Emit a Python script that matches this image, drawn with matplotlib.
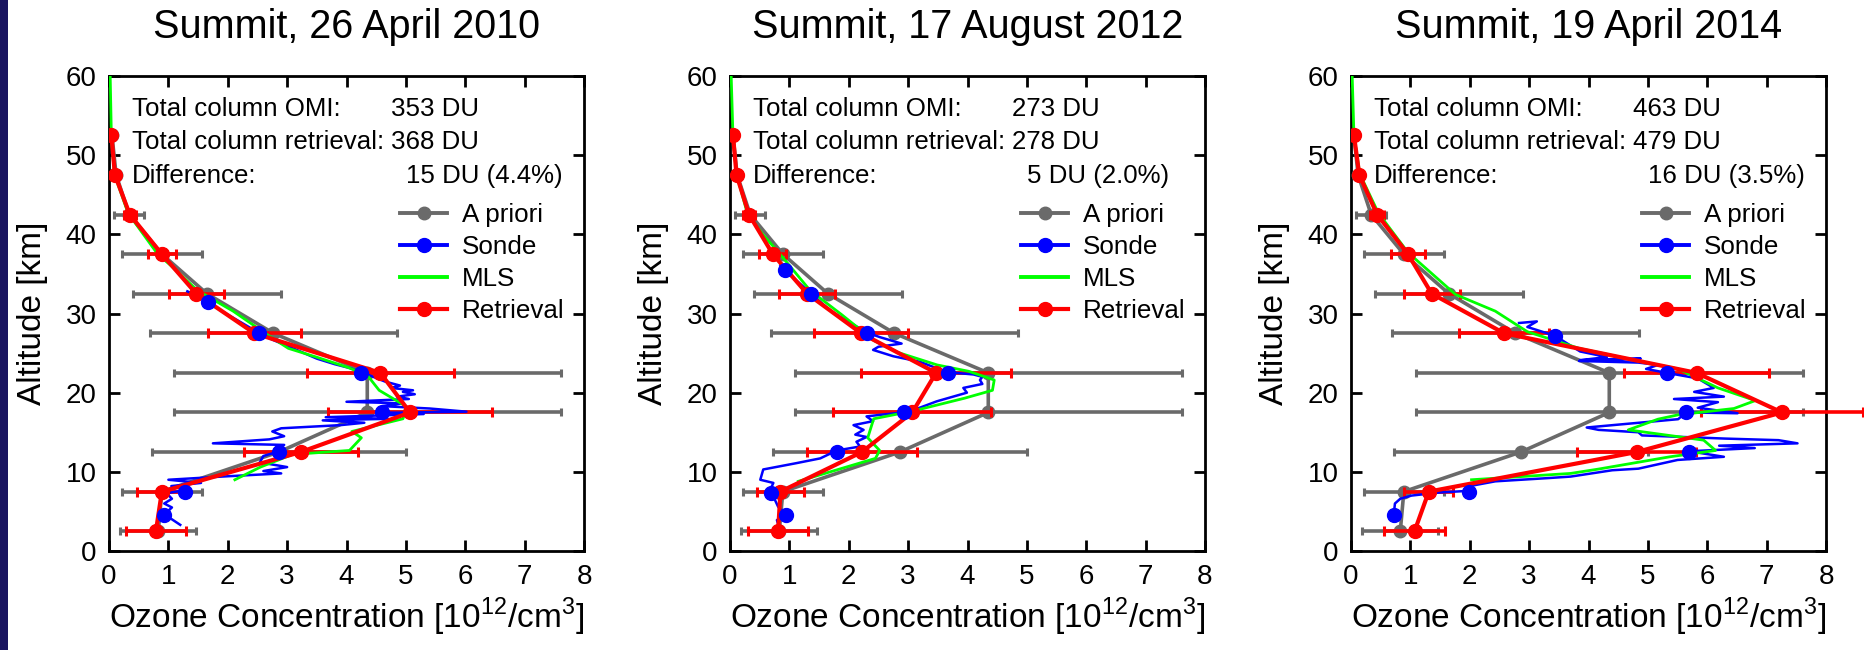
import matplotlib
matplotlib.use("Agg")
import matplotlib.pyplot as plt
from matplotlib.lines import Line2D
from matplotlib.patches import Rectangle

plt.rcParams['font.family'] = ['Liberation Sans', 'DejaVu Sans']
plt.rcParams['mathtext.fontset'] = 'custom'
plt.rcParams['mathtext.rm'] = 'Liberation Sans'

# retrieval / a priori levels [km]
levels     = [2.5, 7.5, 12.5, 17.5, 22.5, 27.5, 32.5, 37.5, 42.5, 47.5, 52.5]
err_levels = [2.5, 7.5, 12.5, 17.5, 22.5, 27.5, 32.5, 37.5, 42.5]

apriori     = [0.83, 0.89, 2.86, 4.35, 4.35, 2.77, 1.65, 0.89, 0.34, 0.12, 0.05]
apriori_err = [0.64, 0.67, 2.14, 3.26, 3.26, 2.08, 1.24, 0.67, 0.25]

titles   = ["Summit, 26 April 2010", "Summit, 17 August 2012", "Summit, 19 April 2014"]
omi_du   = [353, 273, 463]
ret_du   = [368, 278, 479]
diff_txt = ["15 DU (4.4%)", "5 DU (2.0%)", "16 DU (3.5%)"]

# ---- 26 April 2010
ret_2010     = [0.79, 0.89, 3.23, 5.07, 4.57, 2.45, 1.47, 0.89, 0.35, 0.10, 0.04]
ret_err_2010 = [0.51, 0.42, 0.96, 1.38, 1.24, 0.79, 0.46, 0.23, 0.10]
sonde_x_2010   = [1.32, 1.50, 1.67, 1.90, 2.15, 2.40, 2.54, 2.75, 3.10, 3.50, 3.80, 4.06, 4.25,
                  4.45, 4.65, 4.90, 4.75, 5.12, 4.95, 5.15, 4.85, 5.05, 4.00, 4.95, 4.60, 5.40,
                  6.02, 4.60, 5.30, 3.65, 4.70, 3.60, 4.30, 3.90, 2.90, 2.75, 2.95, 2.70, 1.75,
                  2.95, 2.80, 2.87, 2.60, 2.54, 3.00, 2.60, 2.90, 1.90, 1.00, 1.55, 1.05, 1.29,
                  0.97, 1.06, 0.93, 1.06, 0.93, 1.06, 1.20]
sonde_alt_2010 = [32.8, 32.2, 31.4, 30.3, 29.2, 28.1, 27.5, 26.7, 25.6, 24.3, 23.6, 23.1, 22.6,
                  22.0, 21.4, 20.9, 20.6, 20.3, 20.1, 19.8, 19.5, 19.2, 18.85, 18.65, 18.3, 18.0,
                  17.6, 17.45, 17.3, 16.9, 16.7, 16.5, 16.2, 15.9, 15.5, 15.1, 14.5, 14.1, 13.6,
                  13.4, 13.0, 12.6, 12.0, 11.2, 10.6, 10.1, 9.8, 9.4, 9.0, 8.6, 8.2, 7.7,
                  7.3, 6.6, 6.0, 5.5, 4.6, 4.0, 3.3]
sonde_pts_x_2010   = [1.67, 2.53, 4.25, 4.60, 2.87, 1.28, 0.93]
sonde_pts_alt_2010 = [31.4, 27.5, 22.5, 17.5, 12.5, 7.5, 4.5]
mls_x_2010   = [0.02, 0.04, 0.09, 0.32, 0.55, 0.82, 1.05, 1.49, 2.09, 2.69, 3.02, 3.49, 4.02,
                4.35, 4.55, 5.02, 4.95, 4.09, 4.25, 4.05, 3.09, 2.55, 2.12]
mls_alt_2010 = [60.0, 52.4, 47.6, 42.7, 40.3, 37.5, 36.0, 32.9, 30.3, 27.2, 25.6, 24.5, 23.2,
                22.2, 20.3, 18.2, 16.7, 15.1, 14.3, 12.7, 12.2, 10.6, 9.0]

# ---- 17 August 2012
ret_2012     = [0.81, 0.85, 2.22, 3.07, 3.47, 2.21, 1.30, 0.72, 0.32, 0.11, 0.05]
ret_err_2012 = [0.50, 0.40, 0.93, 1.33, 1.27, 0.79, 0.47, 0.23, 0.10]
sonde_x_2012   = [0.85, 0.92, 1.10, 1.37, 1.68, 1.85, 2.10, 2.30, 2.53, 2.89, 2.50, 2.41, 2.75,
                  3.20, 3.65, 4.10, 4.25, 4.21, 4.25, 3.93, 3.99, 3.48, 3.09, 2.92, 2.53, 2.30,
                  2.41, 2.08, 2.25, 2.11, 2.30, 2.13, 2.19, 1.80, 1.52, 1.12, 0.56, 0.51, 0.73,
                  0.67, 0.76, 0.81, 0.93, 0.79, 0.82]
sonde_alt_2012 = [36.1, 35.5, 34.3, 32.5, 30.4, 29.6, 28.5, 27.6, 27.0, 26.2, 25.8, 25.4, 24.6,
                  23.9, 22.6, 22.3, 22.0, 21.6, 21.1, 20.6, 20.0, 18.9, 17.8, 17.5, 17.2, 17.0,
                  16.4, 15.9, 15.3, 14.7, 14.4, 13.8, 13.2, 12.7, 11.7, 11.1, 10.3, 9.0, 8.6,
                  7.6, 6.4, 5.6, 4.6, 3.9, 3.2]
sonde_pts_x_2012   = [0.92, 1.37, 2.30, 3.67, 2.93, 1.81, 0.69, 0.95]
sonde_pts_alt_2012 = [35.5, 32.5, 27.5, 22.5, 17.5, 12.5, 7.3, 4.5]
mls_x_2012   = [0.02, 0.05, 0.11, 0.29, 0.55, 0.82, 1.35, 1.89, 2.42, 2.82, 3.49, 4.02, 4.45,
                4.42, 3.95, 3.09, 2.42, 2.32, 2.52, 2.45, 1.15]
mls_alt_2012 = [60.0, 52.4, 47.6, 42.7, 40.0, 37.7, 32.9, 29.8, 26.6, 25.1, 23.5, 22.7, 21.6,
                20.3, 19.3, 17.7, 16.7, 14.3, 12.7, 11.7, 8.8]

# ---- 19 April 2014
ret_2014     = [1.07, 1.31, 4.81, 7.26, 5.82, 2.58, 1.36, 0.96, 0.44, 0.14, 0.05]
ret_err_2014 = [0.52, 0.41, 1.00, 1.36, 1.22, 0.76, 0.47, 0.28, 0.12]
sonde_x_2014   = [2.83, 3.13, 2.97, 3.43, 3.86, 4.31, 3.86, 4.88, 3.84, 4.84, 5.17, 4.97, 5.32,
                  5.84, 6.11, 5.78, 6.28, 5.44, 6.18, 5.84, 6.51, 5.64, 5.51, 3.97, 4.17, 4.84,
                  4.90, 6.30, 7.20, 7.52, 6.20, 6.80, 5.70, 6.28, 5.50, 4.84, 4.40, 3.70, 3.30,
                  2.43, 2.00, 1.99, 1.50, 1.02, 0.83, 0.74, 0.72, 0.74]
sonde_alt_2014 = [28.8, 29.0, 28.3, 27.2, 25.2, 24.5, 24.1, 24.3, 24.0, 23.8, 23.5, 23.0, 22.5,
                  21.8, 20.6, 20.1, 19.5, 19.2, 18.8, 18.1, 17.4, 17.5, 16.65, 15.6, 15.3, 15.0,
                  14.6, 14.2, 14.0, 13.6, 13.3, 13.0, 12.6, 11.9, 11.5, 10.4, 10.2, 9.4, 9.2,
                  8.8, 8.2, 7.6, 7.4, 7.0, 6.6, 6.0, 4.6, 3.9]
sonde_pts_x_2014   = [3.43, 5.32, 5.64, 5.70, 1.99, 0.72]
sonde_pts_alt_2014 = [27.2, 22.5, 17.5, 12.5, 7.5, 4.6]
mls_x_2014   = [0.02, 0.05, 0.15, 0.46, 0.96, 1.76, 2.43, 2.97, 3.84, 4.84, 5.51, 6.18, 6.81,
                6.45, 5.51, 5.17, 4.67, 5.94, 6.14, 5.37, 4.17, 3.70, 2.03]
mls_alt_2014 = [60.0, 52.4, 47.6, 42.7, 37.7, 32.4, 30.3, 27.7, 25.6, 24.0, 23.0, 20.6, 19.0,
                18.0, 17.2, 16.65, 15.3, 14.0, 12.7, 11.9, 10.35, 9.8, 9.0]

panels = [
    (ret_2010, ret_err_2010, sonde_x_2010, sonde_alt_2010, sonde_pts_x_2010, sonde_pts_alt_2010,
     mls_x_2010, mls_alt_2010),
    (ret_2012, ret_err_2012, sonde_x_2012, sonde_alt_2012, sonde_pts_x_2012, sonde_pts_alt_2012,
     mls_x_2012, mls_alt_2012),
    (ret_2014, ret_err_2014, sonde_x_2014, sonde_alt_2014, sonde_pts_x_2014, sonde_pts_alt_2014,
     mls_x_2014, mls_alt_2014),
]

GRAY  = "#6a6a6a"
BLUE  = "#0000ff"
GREEN = "#00ff00"
RED   = "#ff0000"

fig = plt.figure(figsize=(18.64, 6.5), dpi=100, facecolor="white")
fig.patches.append(Rectangle((0, 0), 8 / 1864, 1, transform=fig.transFigure,
                             facecolor="#1a1560", edgecolor="none", zorder=0))

lefts = [109 / 1864, 730 / 1864, 1351 / 1864]

for i, (ret, ret_err, sx, salt, px, palt, mx, malt) in enumerate(panels):
    ax = fig.add_axes([lefts[i], 99 / 650, 475 / 1864, 475 / 650])

    ax.errorbar(apriori[:9], err_levels, xerr=apriori_err, fmt="none", ecolor=GRAY,
                elinewidth=2.6, capsize=3, capthick=2.2, zorder=2)
    ax.plot(apriori, levels, color=GRAY, lw=2.6, marker="o", ms=9, zorder=3)
    ax.errorbar(ret[:9], err_levels, xerr=ret_err, fmt="none", ecolor=RED,
                elinewidth=2.6, capsize=3.5, capthick=2.2, zorder=4, clip_on=False)
    ax.plot(sx, salt, color=BLUE, lw=1.8, zorder=5)
    ax.plot(px, palt, "o", color=BLUE, ms=10, zorder=7)
    ax.plot(mx, malt, color=GREEN, lw=2.0, zorder=6)
    ax.plot(ret, levels, color=RED, lw=3.0, marker="o", ms=10, zorder=6.5)

    ax.set_xlim(0, 8)
    ax.set_ylim(0, 60)
    ax.set_xticks(range(0, 9))
    ax.set_yticks(range(0, 61, 10))
    ax.tick_params(direction="in", top=True, right=True, length=8, width=2, labelsize=20)
    ax.tick_params(axis="x", pad=9)
    ax.tick_params(axis="y", pad=9)
    for sp in ax.spines.values():
        sp.set_linewidth(2)

    ax.set_title(titles[i], fontsize=28.5, pad=27)
    ax.set_xlabel(r"Ozone Concentration [10$^{\mathregular{12}}$/cm$^{\mathregular{3}}$]",
                  fontsize=24)
    ax.set_ylabel("Altitude [km]", fontsize=24)
    ax.xaxis.set_label_coords(0.5, -0.095)
    ax.yaxis.set_label_coords(-0.128, 0.5)

    fs = 18.6
    ax.text(0.39, 55.0, "Total column OMI:", fontsize=fs, va="baseline")
    ax.text(4.75, 55.0, f"{omi_du[i]} DU", fontsize=fs, va="baseline")
    ax.text(0.39, 50.8, "Total column retrieval:", fontsize=fs, va="baseline")
    ax.text(4.75, 50.8, f"{ret_du[i]} DU", fontsize=fs, va="baseline")
    ax.text(0.39, 46.5, "Difference:", fontsize=fs, va="baseline")
    ax.text(5.0, 46.5, diff_txt[i], fontsize=fs, va="baseline")

    handles = [Line2D([], [], color=GRAY, lw=2.8, marker="o", ms=9),
               Line2D([], [], color=BLUE, lw=2.8, marker="o", ms=10),
               Line2D([], [], color=GREEN, lw=2.8),
               Line2D([], [], color=RED, lw=3.0, marker="o", ms=10)]
    ax.legend(handles, ["A priori", "Sonde", "MLS", "Retrieval"], loc="upper left",
              bbox_to_anchor=(0.613, 0.732), frameon=False, fontsize=18.7,
              borderpad=0, borderaxespad=0, handlelength=1.8, handletextpad=0.57,
              labelspacing=0.3, numpoints=1)

fig.savefig("out.png", dpi=100, facecolor="white")
